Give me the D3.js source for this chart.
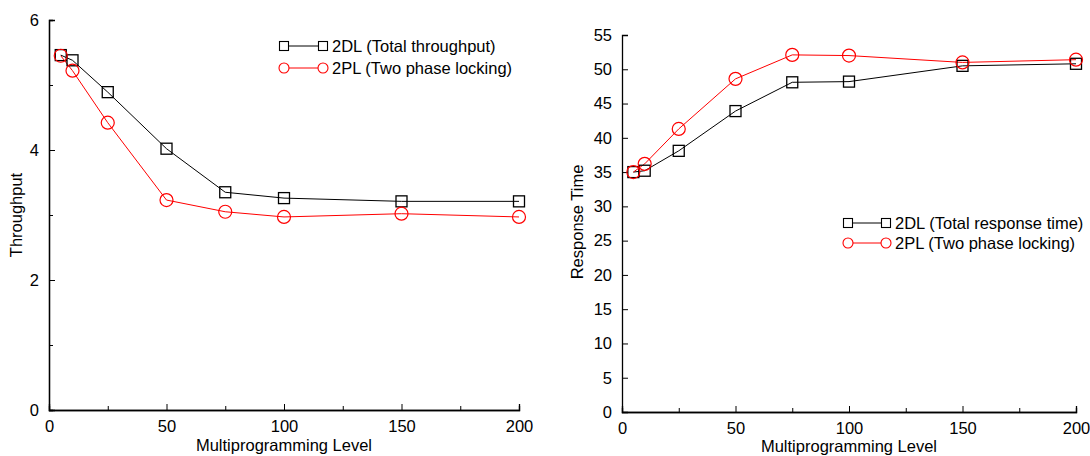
<!DOCTYPE html>
<html><head><meta charset="utf-8">
<script src="https://cdn.jsdelivr.net/npm/d3@7"></script>
<style>body{margin:0;background:#fff}svg text{font-family:"Liberation Sans",Arial,sans-serif;font-size:16.5px;fill:#000}</style>
</head><body><svg id="c" width="1090" height="456"></svg>
<script>
const levels = [5, 10, 25, 50, 75, 100, 150, 200];
const throughput2DL = [5.46, 5.38, 4.89, 4.02, 3.35, 3.26, 3.21, 3.21];
const throughput2PL = [5.45, 5.22, 4.42, 3.23, 3.05, 2.97, 3.02, 2.97];
const response2DL = [35.0, 35.2, 38.1, 43.9, 48.1, 48.2, 50.5, 50.8];
const response2PL = [35.0, 36.2, 41.3, 48.6, 52.1, 52.0, 51.0, 51.4];
const xTicks = [0, 50, 100, 150, 200];
const xMinor = [25, 75, 125, 175];
const leftYTicks = [0, 2, 4, 6];
const leftYMinor = [1, 3, 5];
const rightYTicks = [0, 5, 10, 15, 20, 25, 30, 35, 40, 45, 50, 55];
const leftLegend = ["2DL (Total throughput)", "2PL (Two phase locking)"];
const rightLegend = ["2DL (Total response time)", "2PL (Two phase locking)"];

const svg = d3.select("#c");

function panel(o) {
  const g = svg.append("g");
  const x = d3.scaleLinear().domain([0, 200]).range([o.x0, o.x1]);
  const y = d3.scaleLinear().domain([0, o.ymax]).range([o.y0, o.y1]);
  g.append("g").attr("transform", `translate(0,${o.y0})`)
    .call(d3.axisBottom(x).tickValues(xTicks).tickSize(-6).tickPadding(10).tickFormat(d3.format("d")));
  g.append("g").attr("transform", `translate(0,${o.y0})`)
    .call(d3.axisBottom(x).tickValues(xMinor).tickSize(-4).tickFormat(""));
  g.append("g").attr("transform", `translate(${o.x0},0)`)
    .call(d3.axisLeft(y).tickValues(o.yTicks).tickSize(-6).tickPadding(10).tickFormat(d3.format("d")));
  if (o.yMinor) g.append("g").attr("transform", `translate(${o.x0},0)`)
    .call(d3.axisLeft(y).tickValues(o.yMinor).tickSize(-4).tickFormat(""));
  g.selectAll(".domain").attr("stroke", "#000").attr("stroke-width", 1.3);
  g.selectAll(".tick line").attr("stroke", "#000");
  g.selectAll(".tick text").attr("font-size", null).attr("font-family", null).attr("fill", "#000");
  g.append("text").attr("x", (o.x0 + o.x1) / 2).attr("y", o.xlabY).attr("text-anchor", "middle").text("Multiprogramming Level");
  g.append("text").attr("transform", `translate(${o.ylabX},${o.ylabCY}) rotate(-90)`).attr("text-anchor", "middle").text(o.ylab);
  const line = d3.line().x((d, i) => x(levels[i])).y(d => y(d));
  const series = [{v: o.a, c: "#000", m: "sq"}, {v: o.b, c: "#ff0000", m: "ci"}];
  series.forEach(s => {
    g.append("path").attr("d", line(s.v)).attr("fill", "none").attr("stroke", s.c).attr("stroke-width", 1);
  });
  function marker(px, py, s) {
    if (s.m === "sq") g.append("rect").attr("x", px - 5.5).attr("y", py - 5.5).attr("width", 11).attr("height", 11).attr("fill", "none").attr("stroke", s.c).attr("stroke-width", 1.3);
    else g.append("circle").attr("cx", px).attr("cy", py).attr("r", 6.5).attr("fill", "none").attr("stroke", s.c).attr("stroke-width", 1.2);
  }
  series.forEach(s => s.v.forEach((d, i) => marker(x(levels[i]), y(d), s)));
  o.leg.forEach((t, i) => {
    const s = series[i];
    const ly = o.legY + i * o.legDy;
    g.append("line").attr("x1", o.legX1).attr("x2", o.legX2).attr("y1", ly).attr("y2", ly).attr("stroke", s.c).attr("stroke-width", 1);
    if (s.m === "sq") {
      [o.legX1, o.legX2].forEach(px => g.append("rect").attr("x", px - 4.5).attr("y", ly - 4.5).attr("width", 9).attr("height", 9).attr("fill", "#fff").attr("stroke", s.c).attr("stroke-width", 1.1));
    } else {
      [o.legX1, o.legX2].forEach(px => g.append("circle").attr("cx", px).attr("cy", ly).attr("r", 5).attr("fill", "#fff").attr("stroke", s.c).attr("stroke-width", 1.1));
    }
    g.append("text").attr("x", o.legX2 + 9).attr("y", ly + 6).text(t);
  });
}

panel({x0: 49, x1: 519, y0: 410, y1: 20, ymax: 6, yTicks: leftYTicks, yMinor: leftYMinor,
  a: throughput2DL, b: throughput2PL, ylab: "Throughput", ylabX: 22, ylabCY: 215, xlabY: 451,
  leg: leftLegend, legX1: 284, legX2: 323, legY: 46, legDy: 22});
panel({x0: 622, x1: 1076, y0: 412, y1: 35, ymax: 55, yTicks: rightYTicks, yMinor: null,
  a: response2DL, b: response2PL, ylab: "Response Time", ylabX: 583, ylabCY: 222, xlabY: 452,
  leg: rightLegend, legX1: 848, legX2: 886, legY: 223, legDy: 20});
</script></body></html>
